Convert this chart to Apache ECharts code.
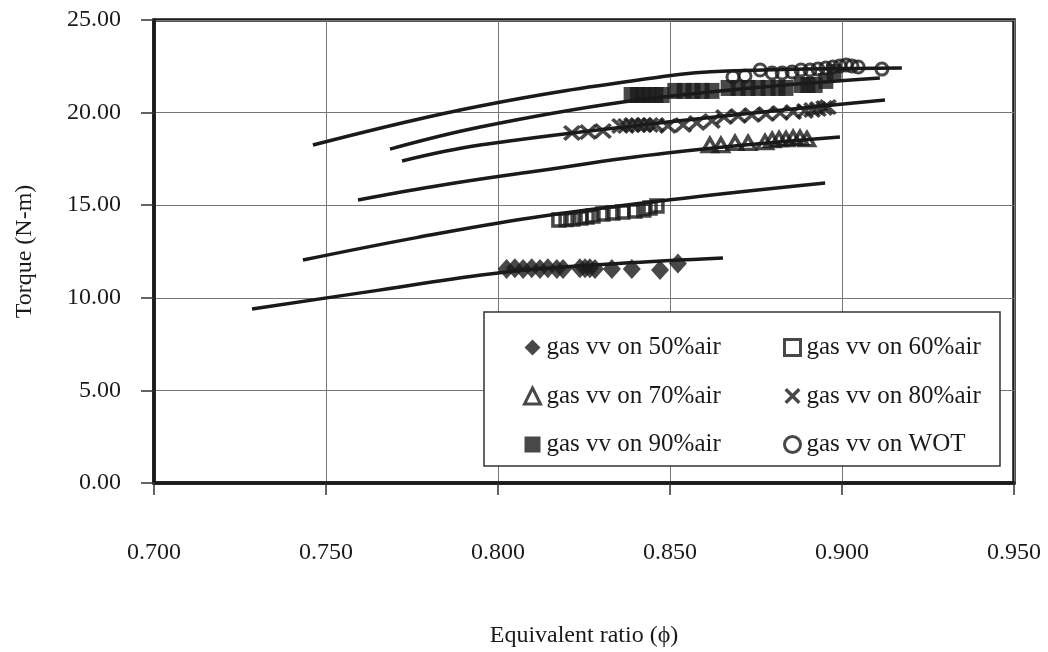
<!DOCTYPE html>
<html>
<head>
<meta charset="utf-8">
<script src="https://cdn.jsdelivr.net/npm/echarts@6/dist/echarts.min.js"></script>
<style>
  html, body { margin: 0; padding: 0; background: #ffffff; }
  #chart { width: 1048px; height: 652px; }
</style>
</head>
<body>
<div id="chart"></div>
<script>
// Measured points: [equivalent ratio, torque N-m]
const air50 = [
  [0.8025, 11.55], [0.8049, 11.60], [0.8073, 11.55], [0.8098, 11.60], [0.8122, 11.55],
  [0.8145, 11.60], [0.8171, 11.55], [0.8189, 11.55], [0.8238, 11.60], [0.8253, 11.60],
  [0.8267, 11.60], [0.8282, 11.55], [0.8331, 11.55], [0.8389, 11.55], [0.8471, 11.50],
  [0.8523, 11.85]
];
const air60 = [
  [0.8177, 14.20], [0.8198, 14.23], [0.8218, 14.26], [0.8241, 14.31], [0.8259, 14.36],
  [0.8276, 14.42], [0.8305, 14.52], [0.8334, 14.58], [0.8363, 14.63], [0.8398, 14.69],
  [0.8424, 14.74], [0.8442, 14.85], [0.8462, 14.96]
];
const air70 = [
  [0.8616, 18.25], [0.8648, 18.25], [0.8689, 18.36], [0.8727, 18.36], [0.8776, 18.41],
  [0.8797, 18.52], [0.8817, 18.57], [0.8837, 18.57], [0.8858, 18.63], [0.8878, 18.63],
  [0.8898, 18.57]
];
const air80 = [
  [0.8215, 18.90], [0.8262, 18.95], [0.8305, 19.01], [0.8355, 19.28], [0.8372, 19.28],
  [0.8390, 19.33], [0.8407, 19.33], [0.8424, 19.33], [0.8442, 19.33], [0.8459, 19.33],
  [0.8494, 19.28], [0.8538, 19.33], [0.8578, 19.44], [0.8622, 19.55], [0.8657, 19.76],
  [0.8698, 19.82], [0.8738, 19.87], [0.8779, 19.92], [0.8820, 19.98], [0.8858, 20.03],
  [0.8892, 20.09], [0.8913, 20.14], [0.8930, 20.19], [0.8948, 20.25], [0.8959, 20.30]
];
const air90 = [
  [0.8387, 20.95], [0.8405, 20.95], [0.8422, 20.95], [0.8439, 20.95], [0.8459, 20.95],
  [0.8477, 20.95], [0.8514, 21.17], [0.8541, 21.17], [0.8567, 21.17], [0.8593, 21.17],
  [0.8622, 21.17], [0.8669, 21.33], [0.8698, 21.33], [0.8727, 21.33], [0.8756, 21.33],
  [0.8785, 21.33], [0.8814, 21.33], [0.8837, 21.33], [0.8881, 21.49], [0.8901, 21.49],
  [0.8922, 21.49], [0.8953, 21.71], [0.8977, 22.19]
];
const wot = [
  [0.8683, 21.92], [0.8718, 21.98], [0.8762, 22.30], [0.8797, 22.14], [0.8826, 22.14],
  [0.8855, 22.19], [0.8881, 22.30], [0.8907, 22.30], [0.8930, 22.35], [0.8953, 22.41],
  [0.8974, 22.46], [0.8994, 22.52], [0.9012, 22.57], [0.9029, 22.52], [0.9047, 22.46],
  [0.9116, 22.35]
];

// Trend curves for each throttle setting
const fit50X = [0.7285, 0.7650, 0.8000, 0.8350, 0.8654];
const fit50Y = [9.40, 10.40, 11.34, 11.85, 12.15];
const fit60X = [0.7433, 0.7763, 0.8093, 0.8494, 0.8951];
const fit60Y = [12.04, 13.25, 14.31, 15.28, 16.20];
const fit70X = [0.7593, 0.7843, 0.8093, 0.8491, 0.8994];
const fit70Y = [15.28, 16.10, 16.79, 17.82, 18.68];
const fit80X = [0.7721, 0.7948, 0.8500, 0.9125];
const fit80Y = [17.39, 18.25, 19.50, 20.68];
const fit90X = [0.7686, 0.7948, 0.8363, 0.8750, 0.9110];
const fit90Y = [18.03, 19.22, 20.57, 21.35, 21.87];
const fitWotX = [0.7462, 0.7948, 0.8491, 0.8666, 0.9174];
const fitWotY = [18.25, 20.36, 21.98, 22.25, 22.41];

const seriesNames = ['gas vv on 50%air', 'gas vv on 60%air', 'gas vv on 70%air',
                     'gas vv on 80%air', 'gas vv on 90%air', 'gas vv on WOT'];

const INK = '#1a1a1a';
const FONT = 'Liberation Serif';
const CROSS = 'path://M0,1.5L1.5,0L5,3.5L8.5,0L10,1.5L6.5,5L10,8.5L8.5,10L5,6.5L1.5,10L0,8.5L3.5,5Z';

function zip(xs, ys) { return xs.map((x, i) => [x, ys[i]]); }

function fitLine(name, xs, ys) {
  return {
    name: name, type: 'line', data: zip(xs, ys), smooth: 0.4,
    showSymbol: false, symbol: 'none', silent: true, z: 2,
    lineStyle: { color: INK, width: 3.5 }
  };
}

const filled = { color: INK };
const hollow = (w) => ({ color: 'rgba(255,255,255,0)', borderColor: INK, borderWidth: w });

// Legend entries keep the heavy outline of the hollow markers
function legendItem(name, hollowMark) {
  return hollowMark
    ? { name: name, itemStyle: { color: 'rgba(255,255,255,0)', borderColor: INK, borderWidth: 3 } }
    : { name: name, itemStyle: { color: INK, borderWidth: 0 } };
}

const legendText = { fontFamily: FONT, fontSize: 25, lineHeight: 24, color: INK, padding: [0, 0, 0, 1] };

const chart = echarts.init(document.getElementById('chart'), null, { renderer: 'canvas' });
chart.setOption({
  backgroundColor: '#ffffff',
  animation: false,
  textStyle: { fontFamily: FONT, color: INK },
  grid: {
    left: 154, right: 34, top: 20, bottom: 169,
    outerBoundsMode: 'none', containLabel: false,
    show: true, borderColor: INK, borderWidth: 3.5, backgroundColor: 'transparent'
  },
  xAxis: {
    type: 'value', min: 0.70, max: 0.95, interval: 0.05,
    name: 'Equivalent ratio (\u03D5)', nameLocation: 'middle', nameGap: 141,
    nameTextStyle: { fontFamily: FONT, fontSize: 24, color: INK },
    axisLine: { show: true, lineStyle: { color: INK, width: 3.5 } },
    axisTick: { show: true, inside: false, length: 12, lineStyle: { color: '#333', width: 1.5 } },
    axisLabel: { margin: 58, fontFamily: FONT, fontSize: 24, lineHeight: 24, color: INK,
                 formatter: (v) => v.toFixed(3) },
    splitLine: { show: true, lineStyle: { color: '#777', width: 1 } }
  },
  yAxis: {
    type: 'value', min: 0, max: 25, interval: 5,
    name: 'Torque (N-m)', nameLocation: 'middle', nameGap: 117,
    nameTextStyle: { fontFamily: FONT, fontSize: 24, color: INK },
    axisLine: { show: true, lineStyle: { color: INK, width: 3.5 } },
    axisTick: { show: true, inside: false, length: 13, lineStyle: { color: '#333', width: 1.5 } },
    axisLabel: { margin: 33, fontFamily: FONT, fontSize: 24, color: INK,
                 formatter: (v) => v.toFixed(2) },
    splitLine: { show: true, lineStyle: { color: '#777', width: 1 } }
  },
  graphic: [{
    type: 'rect', z: 3, silent: true,
    shape: { x: 484, y: 312, width: 516, height: 154 },
    style: { fill: '#ffffff', stroke: '#333', lineWidth: 1.5 }
  }],
  legend: [
    {
      data: [legendItem(seriesNames[0], false), legendItem(seriesNames[2], true), legendItem(seriesNames[4], false)],
      orient: 'vertical', left: 518, top: 330, itemGap: 23.5,
      itemWidth: 16, itemHeight: 16, z: 4, selectedMode: false,
      textStyle: legendText
    },
    {
      data: [legendItem(seriesNames[1], true), legendItem(seriesNames[3], false), legendItem(seriesNames[5], true)],
      orient: 'vertical', left: 778, top: 330, itemGap: 23.5,
      itemWidth: 16, itemHeight: 16, z: 4, selectedMode: false,
      textStyle: legendText
    }
  ],
  series: [
    fitLine('fit 50', fit50X, fit50Y),
    fitLine('fit 60', fit60X, fit60Y),
    fitLine('fit 70', fit70X, fit70Y),
    fitLine('fit 80', fit80X, fit80Y),
    fitLine('fit 90', fit90X, fit90Y),
    fitLine('fit WOT', fitWotX, fitWotY),
    { name: seriesNames[0], type: 'scatter', data: air50, symbol: 'diamond', symbolSize: [18, 20],
      itemStyle: filled, z: 3 },
    { name: seriesNames[1], type: 'scatter', data: air60, symbol: 'rect', symbolSize: 12,
      itemStyle: hollow(3.5), z: 3 },
    { name: seriesNames[2], type: 'scatter', data: air70, symbol: 'triangle', symbolSize: [15, 13],
      itemStyle: hollow(3.5), z: 3 },
    { name: seriesNames[3], type: 'scatter', data: air80, symbol: CROSS, symbolSize: [18, 16],
      itemStyle: filled, z: 3 },
    { name: seriesNames[4], type: 'scatter', data: air90, symbol: 'rect', symbolSize: [15, 16],
      itemStyle: filled, z: 3 },
    { name: seriesNames[5], type: 'scatter', data: wot, symbol: 'circle', symbolSize: 12,
      itemStyle: hollow(3), z: 3 }
  ]
});
</script>
</body>
</html>
